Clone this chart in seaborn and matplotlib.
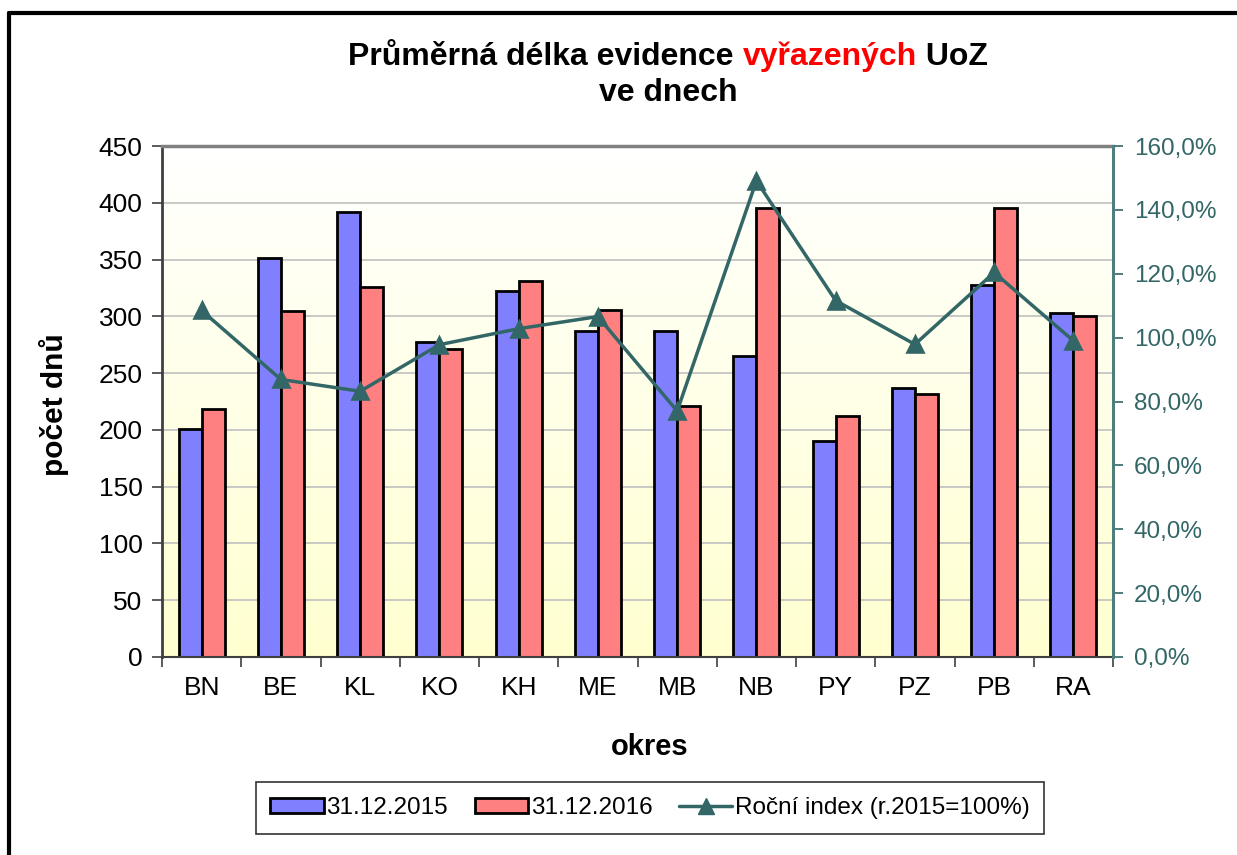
import numpy as np
import pandas as pd
import matplotlib
matplotlib.use('Agg')
import matplotlib.pyplot as plt
import seaborn as sns
from matplotlib.lines import Line2D
from matplotlib.patches import Patch
from matplotlib.ticker import FuncFormatter, MultipleLocator

okres = ['BN', 'BE', 'KL', 'KO', 'KH', 'ME', 'MB', 'NB', 'PY', 'PZ', 'PB', 'RA']
dny_2015 = [201, 351, 392, 277, 322, 287, 287, 265, 190, 237, 328, 303]
dny_2016 = [218, 305, 326, 271, 331, 306, 221, 395, 212, 232, 395, 300]
index_pct = [108.5, 86.9, 83.2, 97.8, 102.8, 106.6, 77.0, 149.1, 111.6, 97.9, 120.4, 99.0]

lab_2015 = '31.12.2015'
lab_2016 = '31.12.2016'
lab_index = 'Roční index (r.2015=100%)'

BLUE = '#8080FF'
RED = '#FF8080'
TEAL = '#336666'

df = pd.DataFrame({
    'okres': okres * 2,
    'dny': dny_2015 + dny_2016,
    'rok': [lab_2015] * len(okres) + [lab_2016] * len(okres),
})
df_idx = pd.DataFrame({'okres': okres, 'index': index_pct})

sns.set_theme(style='white')
plt.rcParams['font.family'] = ['Liberation Sans', 'DejaVu Sans']
plt.rcParams['text.color'] = 'black'

fig = plt.figure(figsize=(12.37, 8.55), dpi=100)
ax = fig.add_axes([0.131, 0.2316, 0.7688, 0.5976])

# background gradient white -> light yellow
grad = np.linspace(0, 1, 256).reshape(-1, 1)
cmap = matplotlib.colors.LinearSegmentedColormap.from_list('bg', ['#FFFFFF', '#FFFFD0'])
ax.imshow(grad, extent=[0, 1, 0, 1], transform=ax.transAxes, aspect='auto',
          cmap=cmap, zorder=0, interpolation='bicubic')

sns.barplot(data=df, x='okres', y='dny', hue='rok', order=okres,
            hue_order=[lab_2015, lab_2016], palette=[BLUE, RED],
            width=0.58, edgecolor='black', linewidth=2, saturation=1,
            legend=False, ax=ax, zorder=2)

ax.set_xlim(-0.5, len(okres) - 0.5)
ax.set_ylim(0, 450)
ax.yaxis.set_major_locator(MultipleLocator(50))
ax.grid(axis='y', color='#C0C0C0', linewidth=1.2, zorder=1)
ax.set_axisbelow(True)
ax.set_xlabel('')
ax.set_ylabel('')
ax.tick_params(axis='y', labelsize=19, length=7, width=1.2, direction='out',
               left=True, color='#404040', pad=7, labelcolor='black')
ax.tick_params(axis='x', labelsize=19, length=0, pad=14, labelcolor='black')
ax.set_xticks(np.arange(-0.5, len(okres)), minor=True)
ax.tick_params(axis='x', which='minor', bottom=True, length=7, width=1.2,
               direction='out', color='#404040')
for side, col, lw in [('left', '#404040', 2), ('bottom', '#404040', 1.5),
                      ('top', '#808080', 2.5), ('right', TEAL, 2)]:
    ax.spines[side].set_color(col)
    ax.spines[side].set_linewidth(lw)
    ax.spines[side].set_visible(True)

ax2 = ax.twinx()
sns.pointplot(data=df_idx, x='okres', y='index', order=okres, color=TEAL,
              markers='^', linestyles='-', ax=ax2,
              markersize=11, linewidth=2.5)
ax2.set_xlim(-0.5, len(okres) - 0.5)
ax2.set_ylim(0, 160)
ax2.yaxis.set_major_locator(MultipleLocator(20))
ax2.yaxis.set_major_formatter(FuncFormatter(lambda v, p: f'{v:.1f}'.replace('.', ',') + '%'))
ax2.set_ylabel('')
ax2.set_xlabel('')
ax2.tick_params(axis='y', labelsize=17.5, length=7, width=1.2, direction='out',
                right=True, color=TEAL, labelcolor='#336666', pad=8)
for s in ax2.spines.values():
    s.set_visible(False)
ax2.spines['right'].set_visible(True)
ax2.spines['right'].set_color('#4F7F7F')
ax2.spines['right'].set_linewidth(2)

# axis labels
fig.text(650 / 1237, 1 - 747 / 855, 'okres', ha='center', va='center',
         fontsize=21, fontweight='bold')
fig.text(54 / 1237, 1 - 405 / 855, 'počet dnů', ha='center', va='center',
         fontsize=21.5, fontweight='bold', rotation=90)

# title with one red word
fig.canvas.draw()
rend = fig.canvas.get_renderer()
parts = [('Průměrná délka evidence ', 'black'), ('vyřazených', '#FF0000'), (' UoZ', 'black')]
texts = []
for s, c in parts:
    t = fig.text(0, 1 - 57 / 855, s, fontsize=23, fontweight='bold', color=c,
                 ha='left', va='center')
    texts.append(t)
widths = [t.get_window_extent(rend).width for t in texts]
x0 = 668 - sum(widths) / 2
for t, w in zip(texts, widths):
    t.set_x(x0 / 1237)
    x0 += w
fig.text(668 / 1237, 1 - 93 / 855, 've dnech', ha='center', va='center',
         fontsize=23, fontweight='bold')

# legend
handles = [
    Patch(facecolor=BLUE, edgecolor='black', linewidth=2, label=lab_2015),
    Patch(facecolor=RED, edgecolor='black', linewidth=2, label=lab_2016),
    Line2D([0], [0], color=TEAL, linewidth=2.5, marker='^', markersize=11, label=lab_index),
]
leg = fig.legend(handles=handles, loc='center', bbox_to_anchor=(650 / 1237, 1 - 808 / 855),
                 ncol=3, fontsize=17.5, frameon=True, fancybox=False, handlelength=2.2,
                 handleheight=0.55, handletextpad=0.1, columnspacing=1.1,
                 borderpad=0.6, edgecolor='black')
leg.get_frame().set_linewidth(1.2)

# outer chart border (cropped picture: only top and left visible)
fig.add_artist(Line2D([9 / 1237, 9 / 1237], [0, 1 - 13 / 855], color='black',
                      linewidth=3, transform=fig.transFigure))
fig.add_artist(Line2D([9 / 1237, 1], [1 - 13 / 855, 1 - 13 / 855], color='black',
                      linewidth=3, transform=fig.transFigure))

fig.savefig('out.png', dpi=100, facecolor='white')
